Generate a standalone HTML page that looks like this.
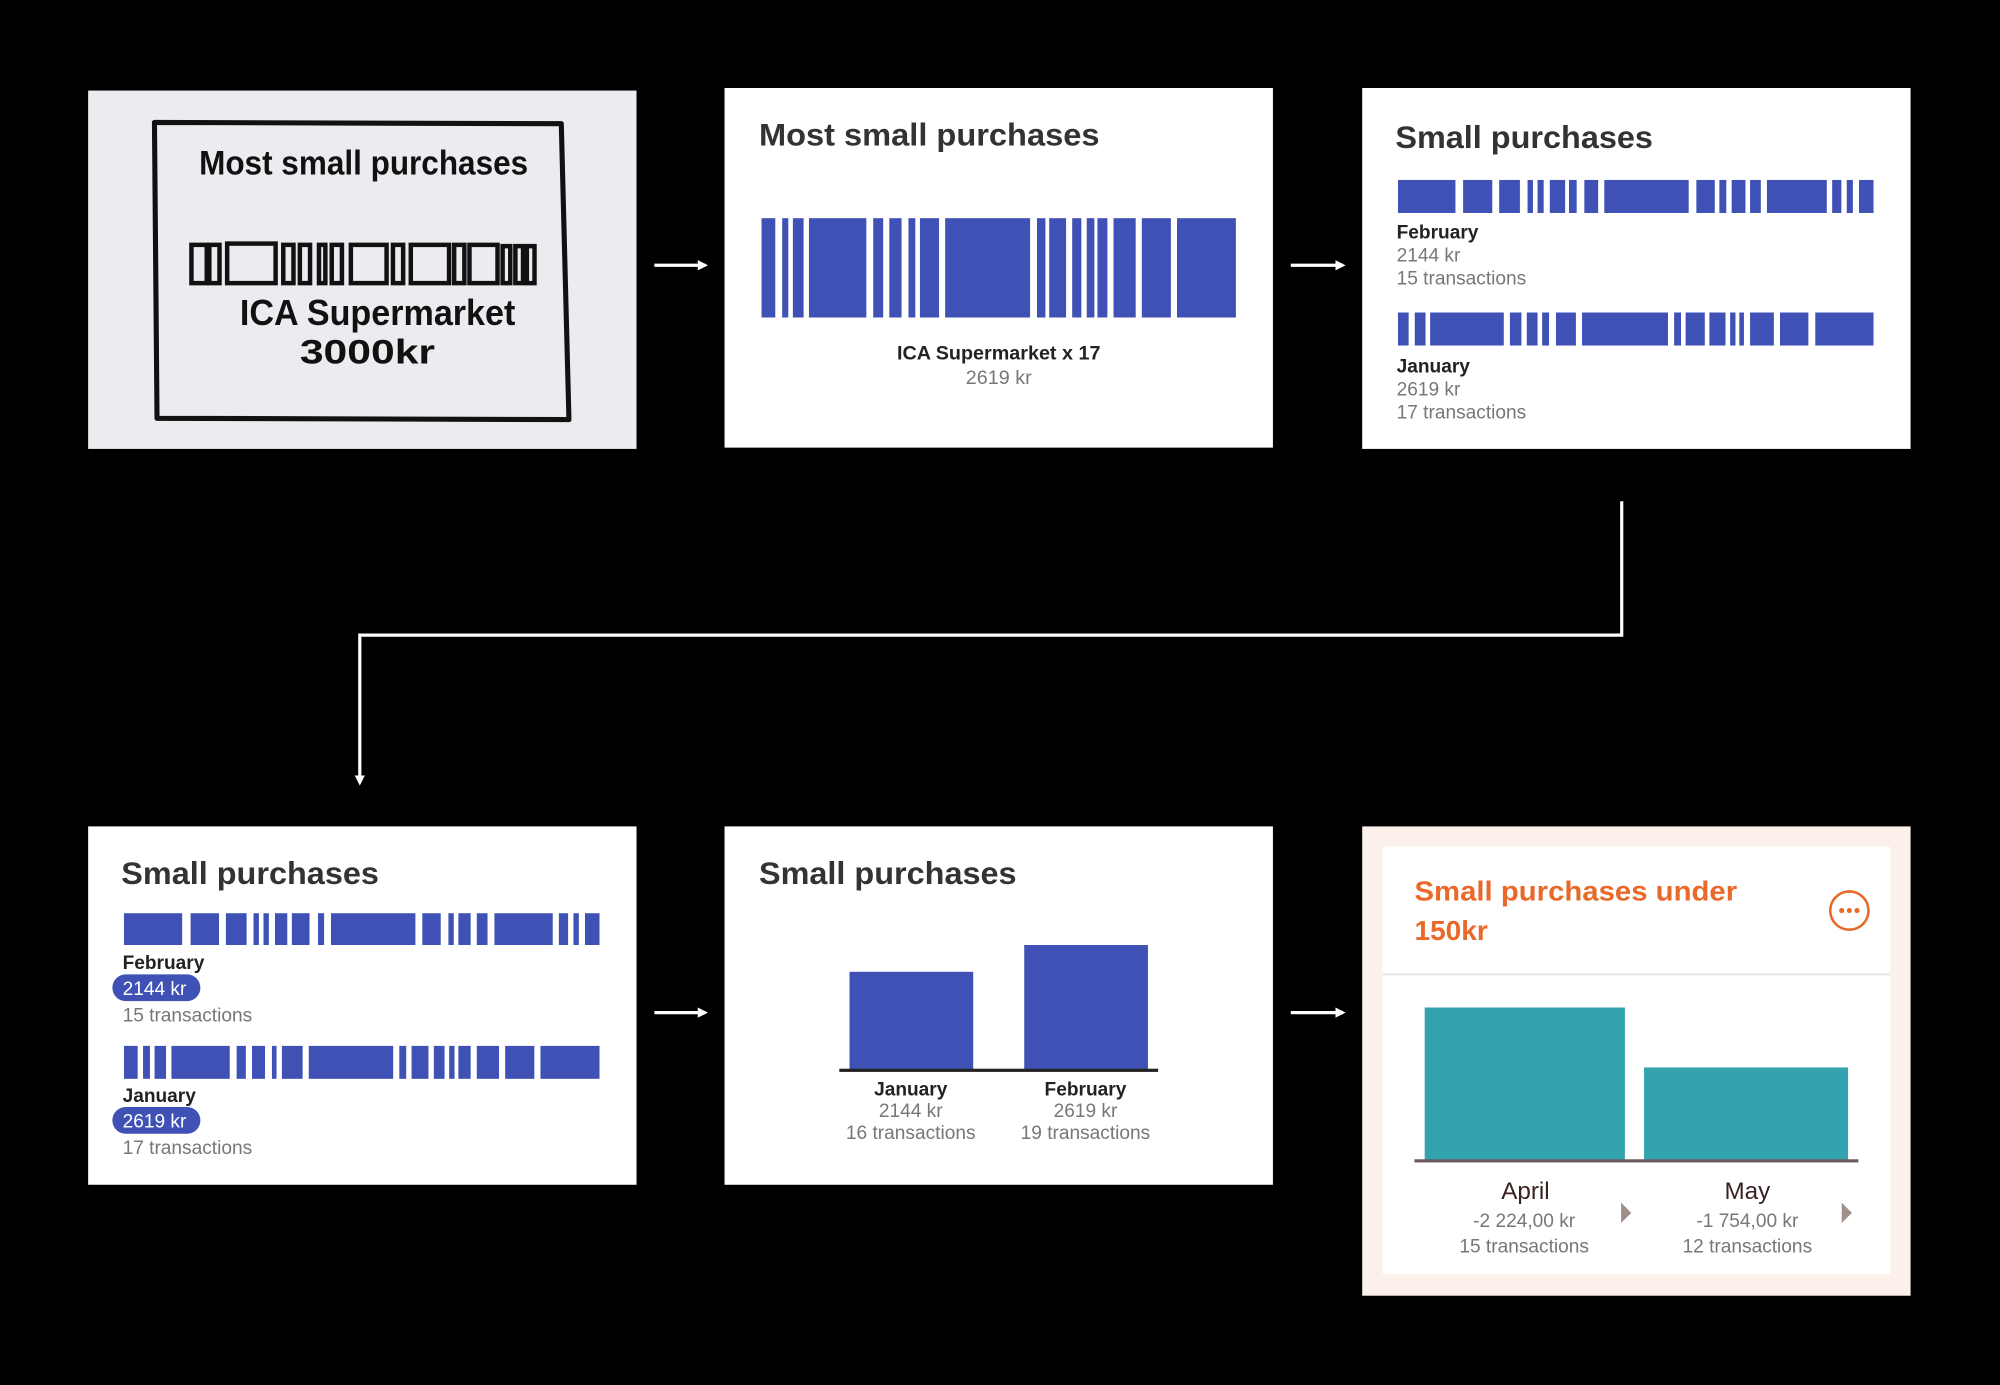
<!DOCTYPE html>
<html><head><meta charset="utf-8"><style>
html,body{margin:0;padding:0;background:#000;}
svg{display:block;}
text{font-family:"Liberation Sans",sans-serif;}
</style></head><body>
<svg width="2000" height="1385" viewBox="0 0 1568 1086" xmlns="http://www.w3.org/2000/svg">
<rect width="1568" height="1086" fill="#000"/>
<defs>
<marker id="ah" markerWidth="8" markerHeight="8" refX="6" refY="4" orient="auto" markerUnits="userSpaceOnUse"><path d="M0,0 L8,4 L0,8 Z" fill="#fff"/></marker>
</defs>

<!-- Panel 1 sketch -->
<rect x="69" y="71" width="430" height="281" fill="#ebecf0"/>
<path d="M121,96 L440,97 L446,329 L123,328 Z" fill="none" stroke="#111" stroke-width="4" stroke-linejoin="round"/>
<text x="285" y="137" font-size="27" font-weight="bold" text-anchor="middle" fill="#111" textLength="258" lengthAdjust="spacingAndGlyphs">Most small purchases</text>
<g fill="none" stroke="#111" stroke-width="3.5">
<rect x="150" y="192" width="12" height="30"/><rect x="164" y="192" width="8" height="30"/>
<rect x="178" y="191" width="38" height="31"/><rect x="222" y="192" width="8" height="30"/>
<rect x="235" y="192" width="8" height="30"/><rect x="250" y="192" width="5" height="30"/>
<rect x="260" y="192" width="8" height="30"/><rect x="275" y="192" width="28" height="30"/>
<rect x="308" y="192" width="8" height="30"/><rect x="322" y="192" width="30" height="30"/>
<rect x="356" y="192" width="8" height="30"/><rect x="368" y="192" width="22" height="30"/>
<rect x="394" y="193" width="6" height="29"/><rect x="404" y="193" width="6" height="29"/><rect x="413" y="193" width="6" height="29"/>
</g>
<text x="296" y="255" font-size="28" font-weight="bold" text-anchor="middle" fill="#111" textLength="216" lengthAdjust="spacingAndGlyphs">ICA Supermarket</text>
<text x="288" y="285" font-size="27" font-weight="bold" text-anchor="middle" fill="#111" textLength="106" lengthAdjust="spacingAndGlyphs">3000kr</text>

<!-- Panel 2 -->
<rect x="568" y="69" width="430" height="282" fill="#fff"/>
<text x="595" y="114" font-size="25" font-weight="bold" fill="#333" textLength="267" lengthAdjust="spacingAndGlyphs">Most small purchases</text>
<svg x="597" y="171" width="372" height="78" viewBox="55 0 620 1" preserveAspectRatio="none">
<g fill="#3f51b5">
<rect x="55" y="0" width="18" height="1"/><rect x="82" y="0" width="8" height="1"/><rect x="96" y="0" width="14" height="1"/><rect x="117" y="0" width="75" height="1"/><rect x="201" y="0" width="13" height="1"/><rect x="222" y="0" width="16" height="1"/><rect x="247" y="0" width="9" height="1"/><rect x="262" y="0" width="25" height="1"/><rect x="295" y="0" width="111" height="1"/><rect x="415" y="0" width="11" height="1"/><rect x="431" y="0" width="22" height="1"/><rect x="461" y="0" width="12" height="1"/><rect x="480" y="0" width="10" height="1"/><rect x="494" y="0" width="13" height="1"/><rect x="515" y="0" width="29" height="1"/><rect x="552" y="0" width="38" height="1"/><rect x="598" y="0" width="77" height="1"/>
</g></svg>
<text x="783" y="282" font-size="15.5" font-weight="bold" text-anchor="middle" fill="#222">ICA Supermarket x 17</text>
<text x="783" y="301" font-size="15.5" text-anchor="middle" fill="#777">2619 kr</text>

<!-- Panel 3 -->
<rect x="1068" y="69" width="430" height="283" fill="#fff"/>
<text x="1094" y="116" font-size="25" font-weight="bold" fill="#333" textLength="202" lengthAdjust="spacingAndGlyphs">Small purchases</text>
<svg x="1096" y="141" width="373" height="26" viewBox="887 0 620 1" preserveAspectRatio="none">
<g fill="#3f51b5">
<rect x="887" y="0" width="75" height="1"/><rect x="972" y="0" width="38" height="1"/><rect x="1019" y="0" width="27" height="1"/><rect x="1056" y="0" width="7" height="1"/><rect x="1069" y="0" width="8" height="1"/><rect x="1085" y="0" width="20" height="1"/><rect x="1110" y="0" width="10" height="1"/><rect x="1130" y="0" width="18" height="1"/><rect x="1156" y="0" width="110" height="1"/><rect x="1276" y="0" width="24" height="1"/><rect x="1306" y="0" width="9" height="1"/><rect x="1322" y="0" width="18" height="1"/><rect x="1346" y="0" width="14" height="1"/><rect x="1368" y="0" width="78" height="1"/><rect x="1453" y="0" width="12" height="1"/><rect x="1472" y="0" width="8" height="1"/><rect x="1488" y="0" width="19" height="1"/>
</g></svg>
<text x="1095" y="187" font-size="15" font-weight="bold" fill="#222">February</text>
<text x="1095" y="205" font-size="15" fill="#777">2144 kr</text>
<text x="1095" y="223" font-size="15" fill="#777">15 transactions</text>
<svg x="1096" y="245" width="373" height="26" viewBox="887 0 620 1" preserveAspectRatio="none">
<g fill="#3f51b5">
<rect x="887" y="0" width="14" height="1"/><rect x="909" y="0" width="14" height="1"/><rect x="929" y="0" width="96" height="1"/><rect x="1033" y="0" width="15" height="1"/><rect x="1055" y="0" width="14" height="1"/><rect x="1075" y="0" width="9" height="1"/><rect x="1093" y="0" width="26" height="1"/><rect x="1127" y="0" width="112" height="1"/><rect x="1247" y="0" width="9" height="1"/><rect x="1262" y="0" width="25" height="1"/><rect x="1293" y="0" width="21" height="1"/><rect x="1320" y="0" width="7" height="1"/><rect x="1332" y="0" width="6" height="1"/><rect x="1346" y="0" width="31" height="1"/><rect x="1385" y="0" width="37" height="1"/><rect x="1431" y="0" width="76" height="1"/>
</g></svg>
<text x="1095" y="292" font-size="15" font-weight="bold" fill="#222">January</text>
<text x="1095" y="310" font-size="15" fill="#777">2619 kr</text>
<text x="1095" y="328" font-size="15" fill="#777">17 transactions</text>

<!-- Panel 4 -->
<rect x="69" y="648" width="430" height="281" fill="#fff"/>
<text x="95" y="693" font-size="25" font-weight="bold" fill="#333" textLength="202" lengthAdjust="spacingAndGlyphs">Small purchases</text>
<svg x="97" y="716" width="373" height="25" viewBox="58 0 620 1" preserveAspectRatio="none">
<g fill="#3f51b5">
<rect x="58" y="0" width="76" height="1"/><rect x="145" y="0" width="37" height="1"/><rect x="191" y="0" width="27" height="1"/><rect x="227" y="0" width="7" height="1"/><rect x="240" y="0" width="7" height="1"/><rect x="255" y="0" width="16" height="1"/><rect x="277" y="0" width="23" height="1"/><rect x="311" y="0" width="8" height="1"/><rect x="328" y="0" width="110" height="1"/><rect x="447" y="0" width="24" height="1"/><rect x="481" y="0" width="7" height="1"/><rect x="494" y="0" width="16" height="1"/><rect x="518" y="0" width="14" height="1"/><rect x="541" y="0" width="76" height="1"/><rect x="625" y="0" width="12" height="1"/><rect x="644" y="0" width="7" height="1"/><rect x="659" y="0" width="19" height="1"/>
</g></svg>
<text x="96" y="760" font-size="15" font-weight="bold" fill="#222">February</text>
<rect x="88" y="764" width="69" height="21" rx="10.5" fill="#3f51b5"/>
<text x="96" y="780" font-size="15" fill="#fff">2144 kr</text>
<text x="96" y="801" font-size="15" fill="#777">15 transactions</text>
<svg x="97" y="820" width="373" height="26" viewBox="58 0 620 1" preserveAspectRatio="none">
<g fill="#3f51b5">
<rect x="58" y="0" width="18" height="1"/><rect x="83" y="0" width="9" height="1"/><rect x="98" y="0" width="15" height="1"/><rect x="120" y="0" width="76" height="1"/><rect x="205" y="0" width="12" height="1"/><rect x="225" y="0" width="17" height="1"/><rect x="251" y="0" width="6" height="1"/><rect x="264" y="0" width="27" height="1"/><rect x="299" y="0" width="110" height="1"/><rect x="417" y="0" width="9" height="1"/><rect x="433" y="0" width="22" height="1"/><rect x="462" y="0" width="14" height="1"/><rect x="482" y="0" width="7" height="1"/><rect x="494" y="0" width="16" height="1"/><rect x="518" y="0" width="29" height="1"/><rect x="555" y="0" width="38" height="1"/><rect x="601" y="0" width="77" height="1"/>
</g></svg>
<text x="96" y="864" font-size="15" font-weight="bold" fill="#222">January</text>
<rect x="88" y="868" width="69" height="21" rx="10.5" fill="#3f51b5"/>
<text x="96" y="884" font-size="15" fill="#fff">2619 kr</text>
<text x="96" y="905" font-size="15" fill="#777">17 transactions</text>

<!-- Panel 5 -->
<rect x="568" y="648" width="430" height="281" fill="#fff"/>
<text x="595" y="693" font-size="25" font-weight="bold" fill="#333" textLength="202" lengthAdjust="spacingAndGlyphs">Small purchases</text>
<rect x="666" y="762" width="97" height="77" fill="#3f51b5"/>
<rect x="803" y="741" width="97" height="98" fill="#3f51b5"/>
<rect x="658" y="838" width="250" height="2.5" fill="#222"/>
<text x="714" y="859" font-size="15" font-weight="bold" text-anchor="middle" fill="#222">January</text>
<text x="714" y="876" font-size="15" text-anchor="middle" fill="#777">2144 kr</text>
<text x="714" y="893" font-size="15" text-anchor="middle" fill="#777">16 transactions</text>
<text x="851" y="859" font-size="15" font-weight="bold" text-anchor="middle" fill="#222">February</text>
<text x="851" y="876" font-size="15" text-anchor="middle" fill="#777">2619 kr</text>
<text x="851" y="893" font-size="15" text-anchor="middle" fill="#777">19 transactions</text>

<!-- Panel 6 -->
<rect x="1068" y="648" width="430" height="368" fill="#fbf1ea"/>
<rect x="1084" y="664" width="398" height="335" fill="#fff"/>
<text x="1109" y="706" font-size="22" font-weight="bold" fill="#e8692a" textLength="253" lengthAdjust="spacingAndGlyphs">Small purchases under</text>
<text x="1109" y="737" font-size="22" font-weight="bold" fill="#e8692a">150kr</text>
<circle cx="1450" cy="714" r="15" fill="none" stroke="#e8692a" stroke-width="2"/>
<circle cx="1444" cy="714" r="2" fill="#e8692a"/><circle cx="1450" cy="714" r="2" fill="#e8692a"/><circle cx="1456" cy="714" r="2" fill="#e8692a"/>
<rect x="1084" y="763" width="398" height="2" fill="#ece8e6"/>
<rect x="1117" y="790" width="157" height="120" fill="#33a3ae"/>
<rect x="1289" y="837" width="160" height="73" fill="#33a3ae"/>
<rect x="1109" y="909" width="348" height="2.5" fill="#6d5a5a"/>
<text x="1196" y="940" font-size="19" text-anchor="middle" fill="#3a2222">April</text>
<text x="1195" y="962" font-size="15" text-anchor="middle" fill="#777">-2 224,00 kr</text>
<text x="1195" y="982" font-size="15" text-anchor="middle" fill="#777">15 transactions</text>
<path d="M1271,943 L1279,951 L1271,959 Z" fill="#a0908a"/>
<text x="1370" y="940" font-size="19" text-anchor="middle" fill="#3a2222">May</text>
<text x="1370" y="962" font-size="15" text-anchor="middle" fill="#777">-1 754,00 kr</text>
<text x="1370" y="982" font-size="15" text-anchor="middle" fill="#777">12 transactions</text>
<path d="M1444,943 L1452,951 L1444,959 Z" fill="#a0908a"/>

<!-- Arrows -->
<g stroke="#fff" stroke-width="2.5" fill="none" marker-end="url(#ah)">
<line x1="513" y1="208" x2="553" y2="208"/>
<line x1="1012" y1="208" x2="1053" y2="208"/>
<line x1="513" y1="794" x2="553" y2="794"/>
<line x1="1012" y1="794" x2="1053" y2="794"/>
<polyline points="1271.5,393 1271.5,498 282,498 282,614"/>
</g>
</svg>
</body></html>
